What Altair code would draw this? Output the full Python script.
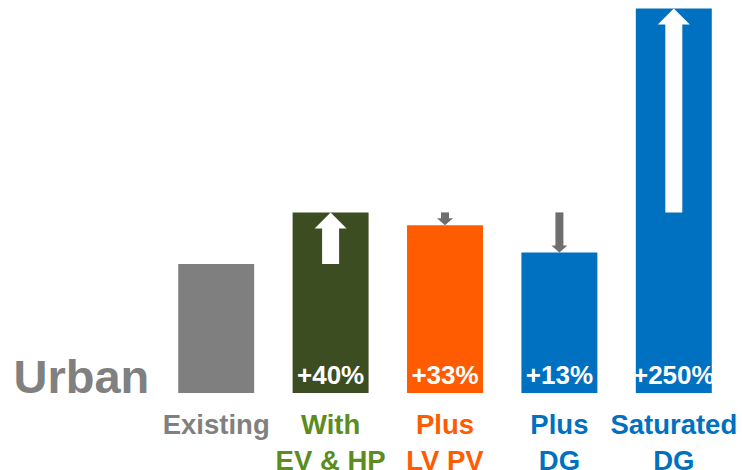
import altair as alt
import pandas as pd

categories = ["Existing", "With EV & HP", "Plus LV PV", "Plus DG", "Saturated DG"]
label_text = ["Existing", "With\nEV & HP", "Plus\nLV PV", "Plus\nDG", "Saturated\nDG"]
values = [100, 140, 130, 109, 298]
pct_text = ["", "+40%", "+33%", "+13%", "+250%"]
bar_colors = ["#7f7f7f", "#3d4d22", "#ff5b00", "#0070c0", "#0070c0"]
label_colors = ["#808080", "#5b8c1e", "#ff5b00", "#0070c0", "#0070c0"]

arrow_cats = ["With EV & HP", "Plus LV PV", "Plus DG", "Saturated DG"]
arrow_from = [100, 140, 140, 140]
arrow_to = [140, 130, 109, 298]
arrow_dir = ["up", "down", "down", "up"]

df = pd.DataFrame({
    "cat": categories,
    "label": label_text,
    "value": values,
    "pct": pct_text,
    "bar_color": bar_colors,
    "label_color": label_colors,
})
arrows = pd.DataFrame({
    "cat": arrow_cats,
    "start": arrow_from,
    "end": arrow_to,
    "dir": arrow_dir,
})

FONT = "Liberation Sans"
xscale = alt.Scale(domain=categories, paddingInner=0.336, paddingOuter=0.168)
yscale = alt.Scale(domain=[0, 300], nice=False, zero=True)

x = alt.X("cat:N", scale=xscale, axis=None, sort=categories)

bars = alt.Chart(df).mark_bar().encode(
    x=x,
    y=alt.Y("value:Q", scale=yscale,
            axis=alt.Axis(domain=False, ticks=False, labels=False, grid=False,
                          title="Urban", titleAngle=0, titleAlign="left",
                          titleBaseline="alphabetic", titleX=-146, titleY=386,
                          titleFont=FONT, titleFontSize=47, titleFontWeight="bold",
                          titleColor="#808080")),
    color=alt.Color("bar_color:N", scale=None),
)

up = alt.Chart(arrows).transform_filter("datum.dir == 'up'")
down = alt.Chart(arrows).transform_filter("datum.dir == 'down'")

up_shaft = up.mark_rule(color="white", strokeWidth=17, y2Offset=15).encode(
    x=x, y=alt.Y("start:Q", scale=yscale), y2="end:Q")
up_head = up.mark_point(shape="M -1 1 L 1 1 L 0 0 Z", size=1024, filled=True,
                        color="white", opacity=1, strokeWidth=0).encode(
    x=x, y=alt.Y("end:Q", scale=yscale))
down_shaft = down.mark_rule(color="#6e6e6e", strokeWidth=8, y2Offset=-6).encode(
    x=x, y=alt.Y("start:Q", scale=yscale), y2="end:Q")
down_head = down.mark_point(shape="M -1 -0.875 L 1 -0.875 L 0 0 Z", size=256, filled=True,
                            color="#6e6e6e", opacity=1, strokeWidth=0).encode(
    x=x, y=alt.Y("end:Q", scale=yscale))

pct = alt.Chart(df).mark_text(font=FONT, fontSize=26, fontWeight="bold", color="white",
                              baseline="alphabetic", dy=-9).encode(
    x=x, y=alt.datum(0, scale=yscale), text="pct:N")

labels = alt.Chart(df).mark_text(font=FONT, fontSize=27.5, fontWeight="bold",
                                 baseline="alphabetic", dy=41, lineBreak="\n",
                                 lineHeight=36).encode(
    x=x, y=alt.datum(0, scale=yscale), text="label:N",
    color=alt.Color("label_color:N", scale=None))

chart = alt.layer(bars, up_shaft, up_head, down_shaft, down_head, pct, labels).properties(
    width=572, height=387,
    autosize=alt.AutoSizeParams(type="none"),
    padding={"left": 159, "top": 6, "right": 11, "bottom": 77},
    background="white",
).configure_view(stroke=None)

chart.save("out.html", embed_options={"renderer": "svg", "actions": False})
